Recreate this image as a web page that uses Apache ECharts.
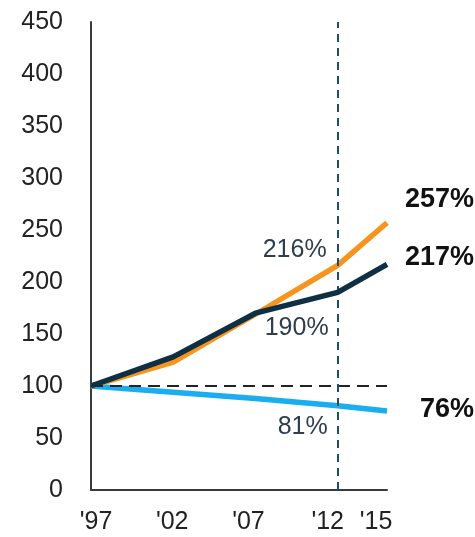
<!DOCTYPE html>
<html>
<head>
<meta charset="utf-8">
<script src="https://cdn.jsdelivr.net/npm/echarts@6/dist/echarts.min.js"></script>
<style>
html,body{margin:0;padding:0;background:#fff;}
#c{width:475px;height:537px;}
</style>
</head>
<body>
<div id="c"></div>
<script>
var years = [1997, 2002, 2007, 2012, 2015];
var orangeValues = [100, 123, 169, 216, 257];
var navyValues = [100, 128, 170, 190, 217];
var blueValues = [100, 94, 88, 81, 76];
var xTickYears = [1997, 2002, 2007, 2012, 2015];
var xTickLabels = ["'97", "'02", "'07", "'12", "'15"];
var baselineValue = 100;
var markerYear = 2012;

var FONT = "'Liberation Sans', Arial, sans-serif";
var labelStyles = ['a', 'b', 'c', 'd', 'e'];

function pairs(vals) { return years.map(function (y, i) { return [y, vals[i]]; }); }
function pctLabel(v) { return v + '%'; }

var chart = echarts.init(document.getElementById('c'));
chart.setOption({
  animation: false,
  backgroundColor: '#ffffff',
  grid: { left: 91, right: 88, top: 22, bottom: 47 },
  xAxis: {
    type: 'value', min: 1997, max: 2015, interval: 1,
    axisLine: { show: true, lineStyle: { color: '#3a3a3a', width: 2 } },
    axisTick: { show: false },
    splitLine: { show: false },
    axisLabel: {
      margin: 20, fontSize: 25, color: '#222', fontFamily: FONT,
      showMinLabel: true, showMaxLabel: true,
      formatter: function (v) {
        var i = xTickYears.indexOf(v);
        return i >= 0 ? '{' + labelStyles[i] + '|' + xTickLabels[i] + '}' : '';
      },
      rich: {
        a: { fontSize: 25, color: '#222', fontFamily: FONT, padding: [0, 0, 0, 10] },
        b: { fontSize: 25, color: '#222', fontFamily: FONT, padding: [0, 2, 0, 0] },
        c: { fontSize: 25, color: '#222', fontFamily: FONT, padding: [0, 14, 0, 0] },
        d: { fontSize: 25, color: '#222', fontFamily: FONT, padding: [0, 20, 0, 0] },
        e: { fontSize: 25, color: '#222', fontFamily: FONT, padding: [0, 22, 0, 0] }
      }
    }
  },
  yAxis: {
    type: 'value', min: 0, max: 450, interval: 50,
    axisLine: { show: true, lineStyle: { color: '#3a3a3a', width: 2 } },
    axisTick: { show: false },
    splitLine: { show: false },
    axisLabel: { margin: 28, fontSize: 25, color: '#222', fontFamily: FONT }
  },
  series: [
    {
      type: 'line', data: pairs(blueValues), symbol: 'none', z: 3,
      lineStyle: { color: '#1aaef0', width: 5.5 },
      markPoint: {
        symbol: 'circle', symbolSize: 0, silent: true,
        data: [
          { coord: [years[3], blueValues[3]], label: { show: true, formatter: pctLabel(blueValues[3]), offset: [-35, 21], fontSize: 25, color: '#2f3d4c', fontFamily: FONT } },
          { coord: [years[4], blueValues[4]], label: { show: true, formatter: pctLabel(blueValues[4]), offset: [87, -1], align: 'right', fontSize: 27, fontWeight: 'bold', color: '#111', fontFamily: FONT } }
        ]
      }
    },
    {
      type: 'line', data: pairs(orangeValues), symbol: 'none', z: 4,
      lineStyle: { color: '#f7941d', width: 5.5 },
      markPoint: {
        symbol: 'circle', symbolSize: 0, silent: true,
        data: [
          { coord: [years[3], orangeValues[3]], label: { show: true, formatter: pctLabel(orangeValues[3]), offset: [-43, -15], fontSize: 25, color: '#2f3d4c', fontFamily: FONT } },
          { coord: [years[4], orangeValues[4]], label: { show: true, formatter: pctLabel(orangeValues[4]), offset: [87, -23], align: 'right', fontSize: 27, fontWeight: 'bold', color: '#111', fontFamily: FONT } }
        ]
      }
    },
    {
      type: 'line', data: pairs(navyValues), symbol: 'none', z: 5,
      lineStyle: { color: '#0f3044', width: 5.5 },
      markPoint: {
        symbol: 'circle', symbolSize: 0, silent: true,
        data: [
          { coord: [years[3], navyValues[3]], label: { show: true, formatter: pctLabel(navyValues[3]), offset: [-41, 36], fontSize: 25, color: '#2f3d4c', fontFamily: FONT } },
          { coord: [years[4], navyValues[4]], label: { show: true, formatter: pctLabel(navyValues[4]), offset: [87, -7], align: 'right', fontSize: 27, fontWeight: 'bold', color: '#111', fontFamily: FONT } }
        ]
      },
      markLine: {
        symbol: 'none', silent: true, label: { show: false },
        data: [
          { yAxis: baselineValue, lineStyle: { color: '#222', width: 2, type: [12, 7] } },
          { xAxis: markerYear, lineStyle: { color: '#1f4f66', width: 2, type: [8, 6] } }
        ]
      }
    }
  ]
});
</script>
</body>
</html>
